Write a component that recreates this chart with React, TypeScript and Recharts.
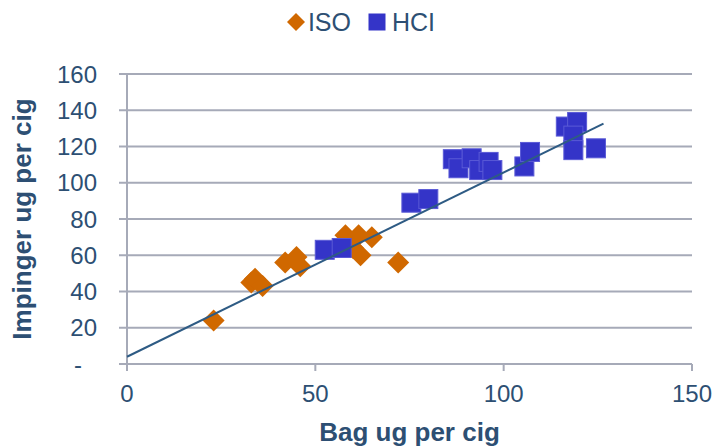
import React from 'react';
import { ScatterChart, Scatter, XAxis, YAxis, CartesianGrid } from 'recharts';

const FONT = '"Liberation Sans", Arial, sans-serif';
const TEXT_COLOR = '#2d4f73';
const GRID_COLOR = '#a6aab8';

// ISO: bag vs impinger (ug per cig)
const isoBag = [23, 33, 34, 36, 42, 45, 46, 58, 60, 61.5, 62, 65, 72];
const isoImp = [24, 45, 47, 43, 56, 59, 54, 71, 64, 71, 60, 70, 56];

// HCI: bag vs impinger (ug per cig)
const hciBag = [52.5, 57, 75.5, 80, 86.5, 88, 91.5, 93.5, 96, 97, 105.5, 107, 116.5, 119.5, 118.5, 118.5, 124.5];
const hciImp = [63, 64, 89, 91, 113, 108, 113.5, 107, 111.5, 107, 109, 117, 131, 133.5, 126, 118, 119];

// linear trend endpoints
const trendBag = [0, 126.5];
const trendImp = [4, 132.6];

const xTicks = [0, 50, 100, 150];
const yTicks = [0, 20, 40, 60, 80, 100, 120, 140, 160];

const series = [
  { name: 'ISO', color: '#d06800', shape: 'diamond' },
  { name: 'HCI', color: '#3434c8', shape: 'square' },
];

const toPoints = (xs: number[], ys: number[]) => xs.map((x, i) => ({ x, y: ys[i] }));

const isoData = toPoints(isoBag, isoImp);
const hciData = toPoints(hciBag, hciImp);
const trendData = toPoints(trendBag, trendImp);

const Diamond = (props: any) => {
  const { cx, cy } = props;
  const r = 11;
  return (
    <polygon
      points={`${cx},${cy - r} ${cx + r},${cy} ${cx},${cy + r} ${cx - r},${cy}`}
      fill={series[0].color}
    />
  );
};

const Square = (props: any) => {
  const { cx, cy } = props;
  const s = 19;
  return (
    <rect
      x={cx - s / 2}
      y={cy - s / 2}
      width={s}
      height={s}
      fill={series[1].color}
      stroke="#5a5ad6"
      strokeWidth={1}
    />
  );
};

const NoDot = () => <g />;

// accounting-style zero: a dash set in from the right edge
const YTick = (props: any) => {
  const { x, y, payload } = props;
  const isZero = payload.value === 0;
  return (
    <text
      x={isZero ? x - 15 : x}
      y={y}
      dy="0.355em"
      textAnchor="end"
      fill={TEXT_COLOR}
      fontSize={24}
    >
      {isZero ? '-' : payload.value}
    </text>
  );
};

function LegendRow() {
  return (
    <div
      style={{
        position: 'absolute',
        top: 8,
        left: 0,
        width: 715,
        paddingLeft: 7,
        boxSizing: 'border-box',
        display: 'flex',
        justifyContent: 'center',
        gap: 17,
        fontFamily: FONT,
        fontSize: 25,
        color: TEXT_COLOR,
        lineHeight: '28px',
      }}
    >
      {series.map((s) => (
        <div key={s.name} style={{ display: 'flex', alignItems: 'center', gap: s.shape === 'diamond' ? 3 : 6 }}>
          <svg width={18} height={18}>
            {s.shape === 'diamond' ? (
              <polygon points="9,0 18,9 9,18 0,9" fill={s.color} />
            ) : (
              <rect x={0.5} y={0.5} width={17} height={17} fill={s.color} />
            )}
          </svg>
          <span>{s.name}</span>
        </div>
      ))}
    </div>
  );
}

export default function App() {
  return (
    <div style={{ position: 'absolute', left: 0, top: 0, width: 715, height: 447, background: '#fff' }}>
      <LegendRow />
      <ScatterChart
        width={715}
        height={447}
        margin={{ top: 74, right: 23, bottom: 0, left: 0 }}
        style={{ fontFamily: FONT }}
      >
        <CartesianGrid vertical={false} stroke={GRID_COLOR} strokeWidth={2} />
        <XAxis
          type="number"
          dataKey="x"
          domain={[0, 150]}
          ticks={xTicks}
          height={83}
          tickSize={7}
          tickMargin={14}
          stroke={GRID_COLOR}
          strokeWidth={2}
          tick={{ fill: TEXT_COLOR, fontSize: 24 }}
          label={{
            value: 'Bag ug per cig',
            position: 'insideBottom',
            offset: 6,
            fill: TEXT_COLOR,
            fontSize: 26,
            fontWeight: 'bold',
          }}
        />
        <YAxis
          type="number"
          dataKey="y"
          domain={[0, 160]}
          ticks={yTicks}
          width={127}
          tickSize={8}
          tickMargin={22}
          interval={0}
          stroke={GRID_COLOR}
          strokeWidth={2}
          tick={<YTick />}
          label={{
            value: 'Impinger ug per cig',
            angle: -90,
            position: 'insideLeft',
            offset: 22,
            fill: TEXT_COLOR,
            fontSize: 26,
            fontWeight: 'bold',
            style: { textAnchor: 'middle' },
          }}
        />
        <Scatter name="ISO" data={isoData} shape={<Diamond />} isAnimationActive={false} />
        <Scatter name="HCI" data={hciData} shape={<Square />} isAnimationActive={false} />
        <Scatter
          name="trend"
          data={trendData}
          line={{ stroke: '#2e5b84', strokeWidth: 2 }}
          shape={<NoDot />}
          legendType="none"
          isAnimationActive={false}
        />
      </ScatterChart>
    </div>
  );
}
